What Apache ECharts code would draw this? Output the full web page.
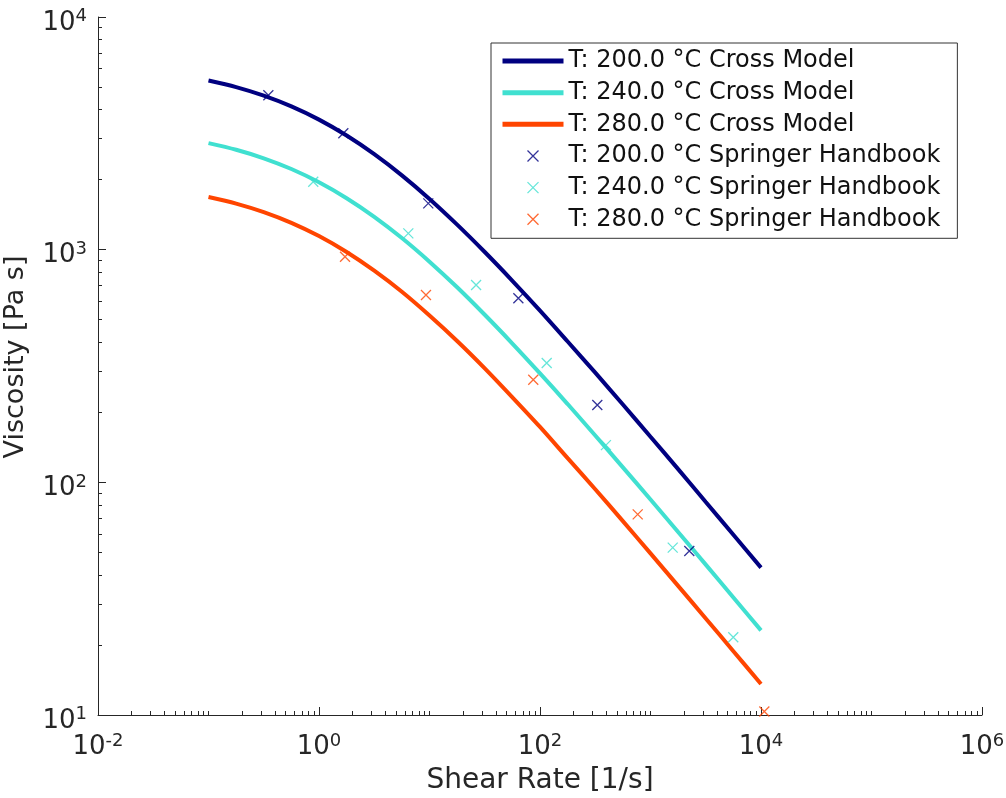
<!DOCTYPE html>
<html><head><meta charset="utf-8">
<script src="https://cdn.jsdelivr.net/npm/echarts@6/dist/echarts.min.js"></script>
<style>html,body{margin:0;padding:0;background:#fff}#c{width:1006px;height:798px}</style>
</head><body><div id="c"></div>
<script>
// Shear rate grid (1/s) for the model curves
const shearRate = [0.1, 0.17783, 0.31623, 0.56234, 1, 1.7783, 3.1623, 5.6234, 10, 17.783, 31.623, 56.234, 100, 177.83, 316.23, 562.34, 1000, 1778.3, 3162.3, 5623.4, 10000];
// Cross model viscosity (Pa s)
const cross200 = [5335, 4997, 4593, 4129, 3622, 3094, 2573, 2086, 1652, 1281, 977, 735, 547, 403, 296, 216, 157, 114, 82.3, 59.5, 43.0];
const cross240 = [2869, 2687, 2470, 2221, 1948, 1664, 1384, 1122, 888, 689, 525, 395, 294, 217, 159, 116, 84.4, 61.2, 44.3, 32.0, 23.1];
const cross280 = [1684, 1578, 1450, 1304, 1144, 977, 812, 659, 521, 405, 309, 232, 173, 127, 93.4, 68.1, 49.5, 35.9, 26.0, 18.8, 13.6];
// Springer Handbook measured points
const spr200Rate = [0.348, 1.66, 9.75, 63.7, 330, 2244];
const spr200Visc = [4613, 3163, 1581, 618, 215, 50.7];
const spr240Rate = [0.887, 6.43, 26.4, 115, 395, 1589, 5610];
const spr240Visc = [1958, 1175, 705, 326, 144.5, 52.4, 21.6];
const spr280Rate = [1.72, 9.29, 86.9, 766, 10720];
const spr280Visc = [933, 638, 276, 72.8, 10.35];
// Axis ticks
const xMajorTicks = [0.01, 1, 100, 10000, 1000000];
const xMinorTicks = [];
for (let d = -2; d <= 5; d++) for (let k = 1; k <= 9; k++) { const v = k * Math.pow(10, d); if (!(k === 1 && d % 2 === 0)) xMinorTicks.push(+v.toPrecision(3)); }
const yMajorTicks = [10, 100, 1000, 10000];
const yMinorTicks = [];
for (let d = 1; d <= 3; d++) for (let k = 2; k <= 9; k++) yMinorTicks.push(k * Math.pow(10, d));

const names = ['T: 200.0 °C Cross Model', 'T: 240.0 °C Cross Model', 'T: 280.0 °C Cross Model',
  'T: 200.0 °C Springer Handbook', 'T: 240.0 °C Springer Handbook', 'T: 280.0 °C Springer Handbook'];
const colors = ['#000080', '#40E0D0', '#FF4500'];
const FONT = 'DejaVu Sans';
const AX = '#262626';
const XSYM = 'path://M0,0L10,10M10,0L0,10';

const zip = (a, b) => a.map((v, i) => [v, b[i]]);
const fmt = v => '{b|10}{s|' + Math.round(Math.log10(v)) + '}';
const rich = { b: { fontSize: 26, fontFamily: FONT, color: AX }, s: { fontSize: 18, fontFamily: FONT, color: AX, padding: [0, 0, 13, 0] } };

const chart = echarts.init(document.getElementById('c'), null, { renderer: 'canvas' });
const lineSeries = [cross200, cross240, cross280].map((d, i) => ({
  name: names[i], type: 'line', data: zip(shearRate, d), symbol: 'none', smooth: 0.3,
  lineStyle: { color: colors[i], width: 4 }, itemStyle: { color: colors[i] }, z: 2
}));
const scatterSeries = [[spr200Rate, spr200Visc], [spr240Rate, spr240Visc], [spr280Rate, spr280Visc]].map((p, i) => ({
  name: names[3 + i], type: 'scatter', data: zip(p[0], p[1]), symbol: XSYM, symbolSize: 10,
  itemStyle: { color: 'transparent', borderColor: colors[i], borderWidth: 1.3 }, z: 3
}));
const hiddenDot = { color: 'transparent', borderColor: 'transparent', borderWidth: 0, opacity: 0 };

chart.setOption({
  animation: false,
  backgroundColor: '#fff',
  grid: { left: 98, right: 24, top: 17, bottom: 83, containLabel: false, outerBoundsMode: 'none' },
  legend: {
    orient: 'vertical', left: 491, top: 43,
    padding: [6, 17, 7, 9], itemGap: 7.66, itemWidth: 61, itemHeight: 11,
    borderColor: '#333', borderWidth: 1, backgroundColor: '#fff',
    textStyle: { fontSize: 24, fontFamily: FONT, color: '#111', lineHeight: 24 },
    data: [
      { name: names[0], itemStyle: hiddenDot, lineStyle: { width: 5, color: colors[0], opacity: 1 } },
      { name: names[1], itemStyle: hiddenDot, lineStyle: { width: 5, color: colors[1], opacity: 1 } },
      { name: names[2], itemStyle: hiddenDot, lineStyle: { width: 5, color: colors[2], opacity: 1 } },
      { name: names[3], icon: XSYM, itemStyle: { color: 'transparent', borderColor: colors[0], borderWidth: 1.3 } },
      { name: names[4], icon: XSYM, itemStyle: { color: 'transparent', borderColor: colors[1], borderWidth: 1.3 } },
      { name: names[5], icon: XSYM, itemStyle: { color: 'transparent', borderColor: colors[2], borderWidth: 1.3 } }
    ]
  },
  xAxis: [{
    type: 'log', logBase: 10, min: 0.01, max: 1000000, position: 'bottom',
    axisLine: { show: true, lineStyle: { color: AX, width: 1 } },
    axisTick: { show: true, inside: true, length: 8, customValues: xMajorTicks, lineStyle: { color: AX } },
    axisLabel: { customValues: xMajorTicks, formatter: fmt, rich: rich, margin: 17 },
    splitLine: { show: false },
    name: 'Shear Rate [1/s]', nameLocation: 'middle', nameGap: 52,
    nameTextStyle: { fontSize: 28, fontFamily: FONT, color: AX, verticalAlign: 'top' }
  }, {
    type: 'log', logBase: 10, min: 0.01, max: 1000000, position: 'bottom', offset: 0,
    axisLine: { show: false },
    axisTick: { show: true, inside: true, length: 4, customValues: xMinorTicks, lineStyle: { color: AX } },
    axisLabel: { show: false }, splitLine: { show: false }
  }],
  yAxis: [{
    type: 'log', logBase: 10, min: 10, max: 10000, position: 'left',
    axisLine: { show: true, lineStyle: { color: AX, width: 1 } },
    axisTick: { show: true, inside: true, length: 8, customValues: yMajorTicks, lineStyle: { color: AX } },
    axisLabel: { customValues: yMajorTicks, formatter: fmt, rich: rich, margin: 11, padding: [12, 0, 0, 0] },
    splitLine: { show: false },
    name: 'Viscosity [Pa s]', nameLocation: 'middle', nameGap: 69,
    nameTextStyle: { fontSize: 27, fontFamily: FONT, color: AX, padding: [0, 0, 0, 18] }
  }, {
    type: 'log', logBase: 10, min: 10, max: 10000, position: 'left', offset: 0,
    axisLine: { show: false },
    axisTick: { show: true, inside: true, length: 4, customValues: yMinorTicks, lineStyle: { color: AX } },
    axisLabel: { show: false }, splitLine: { show: false }
  }],
  series: lineSeries.concat(scatterSeries)
});
</script></body></html>
